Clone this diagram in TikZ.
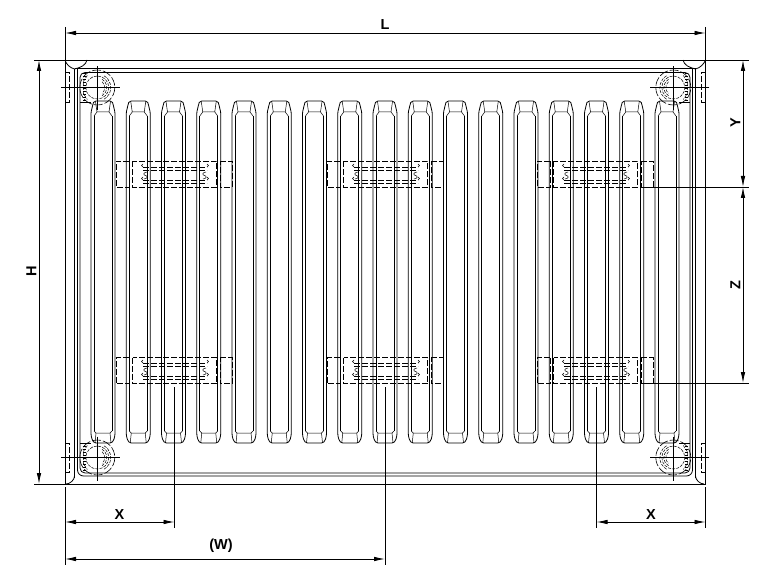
\documentclass[tikz,border=0pt]{standalone}
\usepackage{fontspec}
\setmainfont{Liberation Sans}
\usetikzlibrary{arrows.meta}
\tikzset{
  ln/.style={line width=0.8pt,black},
  dimline/.style={line width=0.85pt,black,{Latex[length=11pt,width=4.5pt]}-{Latex[length=11pt,width=4.5pt]}},
  dimext/.style={line width=0.85pt,black},
  lab/.style={font=\bfseries\fontsize{14.5}{14.5}\selectfont,inner sep=0pt,text=black},
  dsh/.style={line width=0.7pt,black,dash pattern=on 6pt off 2pt},
  dshs/.style={line width=0.5pt,black,dash pattern=on 3pt off 1.2pt},
  thin2/.style={line width=0.5pt,black}
}
\newcommand{\rcol}[1]{%
  \begin{scope}[shift={(#1,0)}]
    \draw[ln,line join=round] (0,300) -- (0,114) .. controls (0,110) and (1.5,108) .. (1.5,106) .. controls (1.5,103) and (3,101) .. (5,101) -- (19,101) .. controls (21,101) and (22.5,103) .. (22.5,106) .. controls (22.5,108) and (24,110) .. (24,114) -- (24,300)
      (0,300) -- (0,433) .. controls (0,436) and (1,443) .. (5,443) -- (19,443) .. controls (23,443) and (24,436) .. (24,433) -- (24,300);
    \draw[ln] (3,116) -- (3,431) (21,116) -- (21,431);
    \draw[thin2] (4.5,101.5) -- (6,112) -- (18,112) -- (19.5,101.5);
    \draw[thin2] (3,116) -- (6,112) (21,116) -- (18,112);
    \draw[thin2] (3,431) -- (5,433) -- (19,433) -- (21,431);
    \draw[thin2] (5,433) -- (4,443) (19,433) -- (20,443);
  \end{scope}}
\newcommand{\valve}[3]{% x y mirror
  \begin{scope}[shift={(#1,#2)},xscale=#3]
    \draw[thin2,line width=0.6pt,dash pattern=on 9pt off 2pt] (0,0) circle (17.5);
    \draw[dshs] (-10,-12) -- (-14,-6) -- (-14,6) -- (-10,12);
    \foreach \q in {-14,-11,...,14} {\draw[thin2,line width=0.4pt] (-14.5,\q) -- (-11.5,\q);}
    \draw[dshs] (0,0) circle (11.5);
    \draw[dshs] (-60:9.5) arc (-60:60:9.5);
    \draw[dshs] (-50:7.5) arc (-50:50:7.5);
    \draw[dshs] (-60:13.5) arc (-60:60:13.5);
    \draw[ln] (-36,0) -- (23,0);
  \end{scope}
  \draw[ln] (#1,#2-21) -- (#1,#2+23);}
\newcommand{\slotgroup}[2]{% x offset, y offset
  \begin{scope}[shift={(#1,#2)}]
    \draw[dsh] (129,161.5) -- (116,161.5) -- (116,187.5) -- (129,187.5) -- cycle;
    \draw[dsh] (132.5,161.5) rectangle (216.5,187.5);
    \draw[dsh] (220,161.5) -- (232,161.5) -- (232,187.5) -- (220,187.5) -- cycle;
    \draw[dsh] (143,167) -- (207,167) (143,170) -- (207,170) (143,180) -- (207,180) (143,183) -- (207,183);
    \draw[thin2] (143,167) arc (90:270:1.5) (207,167) arc (90:-90:1.5)
                 (143,180) arc (90:270:1.5) (207,180) arc (90:-90:1.5);
    \draw[thin2] (147,172) .. controls (143,172.5) and (143,175) .. (145.5,175.5) .. controls (148,176) and (148,178.5) .. (144,179);
    \draw[thin2] (206,172) .. controls (202,172.5) and (202,175) .. (204.5,175.5) .. controls (207,176) and (207,178.5) .. (203,179);
  \end{scope}}
\begin{document}
\begin{tikzpicture}[x=1pt,y=-1pt]
\useasboundingbox (0,0) rectangle (779,580);
\fill[white] (0,0) rectangle (779,580);
\foreach \i in {0,...,16} {\pgfmathsetmacro{\xx}{91+35.25*\i}\rcol{\xx}}
\foreach \ox in {0,211,421} {\foreach \oy in {0,196} {\slotgroup{\ox}{\oy}}}
% frame
\draw[ln] (65,60) -- (705,60);
\draw[ln] (75,68.5) -- (695.5,68.5);
\draw[ln] (74.5,69) -- (74.5,478) (695.5,69) -- (695.5,478);
\draw[ln,rounded corners=6pt] (77.5,68.5) -- (77.5,476) -- (692.5,476) -- (692.5,68.5);
\draw[ln,rounded corners=5pt] (80,72.5) -- (80,473) -- (690,473) -- (690,72.5) -- cycle;
% end bowls
\draw[ln] (65,60) .. controls (66,64) and (70,68) .. (74.5,69) .. controls (81,67.5) and (86,65) .. (87,60);
\draw[ln] (705.5,60) .. controls (704,64) and (700,68) .. (695.5,69) .. controls (689,67.5) and (684,65) .. (683,60);
\draw[ln] (74.5,476) .. controls (74.5,480) and (70,484) .. (66,484);
\draw[ln] (695.5,476) .. controls (695.5,480) and (700,484) .. (704,484);
% side brackets
\draw[dsh] (65,72) -- (69,72) -- (69,102) -- (65,102);
\draw[dsh] (65,443) -- (69,443) -- (69,472) -- (65,472);
\draw[dsh] (705.5,72) -- (701.5,72) -- (701.5,102) -- (705.5,102);
\draw[dsh] (705.5,443) -- (701.5,443) -- (701.5,472) -- (705.5,472);
\draw[ln] (80,102) -- (91,102) (80,443) -- (91,443) (679,102) -- (690,102) (679,443) -- (690,443);
% valves
\valve{97.3}{87.5}{1}
\valve{673.3}{87.5}{-1}
\valve{97.3}{457.5}{1}
\valve{673.3}{457.5}{-1}
% dimension coordinates
\coordinate (ltop) at (65,33); \coordinate (rtop) at (705.5,33);
\coordinate (htop) at (39,60); \coordinate (hbot) at (39,484);
\coordinate (ytop) at (743,60); \coordinate (ybot) at (743,187);
\coordinate (zbot) at (743,383);
\coordinate (xla) at (65,522); \coordinate (xlb) at (174.5,522);
\coordinate (xra) at (596.5,522); \coordinate (xrb) at (705.5,522);
\coordinate (wa) at (65,559); \coordinate (wb) at (385,559);
% extension lines
\draw[dimext] (65,27) -- (65,484) (65,487) -- (65,565);
\draw[dimext] (705.5,27) -- (705.5,484) (705.5,487) -- (705.5,528);
\draw[dimext] (34,60) -- (65,60) (705,60) -- (749,60);
\draw[dimext] (34,484.5) -- (705.5,484.5);
\draw[dimext] (642,187.5) -- (749,187.5);
\draw[dimext] (642,383.5) -- (749,383.5);
\draw[dimext] (174.5,387) -- (174.5,528);
\draw[dimext] (385,387) -- (385,565);
\draw[dimext] (596.5,387) -- (596.5,528);
% dimensions
\draw[dimline] (ltop) -- (rtop);
\draw[dimline] (htop) -- (hbot);
\draw[dimline] (ytop) -- (ybot);
\draw[dimline] (ybot) -- (zbot);
\draw[dimline] (xla) -- (xlb);
\draw[dimline] (xra) -- (xrb);
\draw[dimline] (wa) -- (wb);
% labels
\node[lab] (lL) at (385,25) {L};
\node[lab,rotate=90] (lH) at (31.5,271) {H};
\node[lab,rotate=90] (lY) at (735.5,123) {Y};
\node[lab,rotate=90] (lZ) at (735.5,285) {Z};
\node[lab] (lX1) at (119.5,514.5) {X};
\node[lab] (lX2) at (651,514.5) {X};
\node[lab] (lW) at (221,546) {(W)};
\end{tikzpicture}
\end{document}
